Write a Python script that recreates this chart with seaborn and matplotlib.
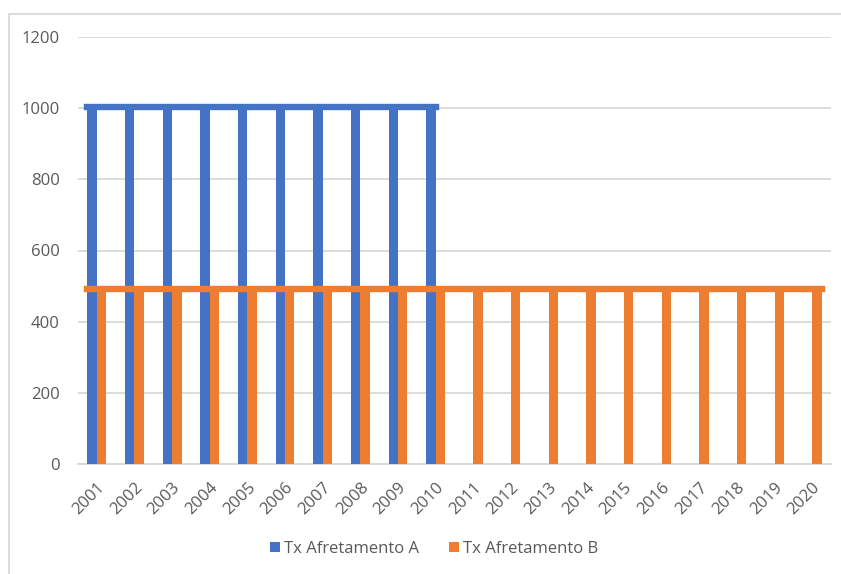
import numpy as np
import pandas as pd
import matplotlib
matplotlib.use("Agg")
import matplotlib.pyplot as plt
from matplotlib.patches import Rectangle
import seaborn as sns

# ---- data ----
years = [str(y) for y in range(2001, 2021)]
tx_a = [1000, 1000, 1000, 1000, 1000, 1000, 1000, 1000, 1000, 1000,
        0, 0, 0, 0, 0, 0, 0, 0, 0, 0]
tx_b = [500] * 20
series_names = ["Tx Afretamento A", "Tx Afretamento B"]
line_levels = [1004, 493]          # levels of the two horizontal caps
y_ticks = [0, 200, 400, 600, 800, 1000, 1200]

colors = ["#4472C4", "#ED7D31"]
grid_c = "#D9D9D9"
text_c = "#595959"

df = pd.DataFrame({
    "year": years * 2,
    "value": tx_a + tx_b,
    "serie": [series_names[0]] * len(years) + [series_names[1]] * len(years),
})

sns.set_theme(style="white")
plt.rcParams["font.family"] = ["Open Sans", "DejaVu Sans"]

fig = plt.figure(figsize=(8.41, 5.74), dpi=100)
ax = fig.add_axes([78 / 841, 1 - 464 / 574, (831 - 78) / 841, (464 - 37) / 574])

sns.barplot(data=df, x="year", y="value", hue="serie", palette=colors,
            saturation=1, width=0.5, linewidth=0, ax=ax, legend=True, zorder=3)

# horizontal caps across the bars, positioned from the bars themselves
cont_a, cont_b = ax.containers[0], ax.containers[1]
n_a = sum(1 for v in tx_a if v > 0)
xa0 = cont_a[0].get_x()
xa1 = cont_a[n_a - 1].get_x() + cont_a[n_a - 1].get_width()
xb1 = cont_b[len(years) - 1].get_x() + cont_b[len(years) - 1].get_width()
ax.plot([xa0, xa1], [line_levels[0]] * 2, color=colors[0], lw=4.6,
        solid_capstyle="projecting", zorder=4)
ax.plot([xa0, xb1], [line_levels[1]] * 2, color=colors[1], lw=4.6,
        solid_capstyle="projecting", zorder=5)

ax.set_ylim(0, 1200)
ax.set_xlim(-0.5, len(years) - 0.5)
ax.set_yticks(y_ticks)
ax.yaxis.grid(True, color=grid_c, lw=1.3, zorder=0)
ax.set_axisbelow(True)
for s in ["top", "right", "left"]:
    ax.spines[s].set_visible(False)
ax.spines["bottom"].set_color(grid_c)
ax.spines["bottom"].set_linewidth(1.3)
ax.set_xlabel("")
ax.set_ylabel("")
ax.tick_params(axis="y", length=0, pad=13, labelsize=12, labelcolor=text_c)
ax.tick_params(axis="x", length=0, pad=11, labelsize=12, labelcolor=text_c)
plt.setp(ax.get_xticklabels(), rotation=45, ha="right", rotation_mode="anchor")

leg = ax.legend(loc="center", bbox_to_anchor=(434 / 841, 1 - 549 / 574),
                bbox_transform=fig.transFigure, ncol=2, frameon=False,
                fontsize=12, handlelength=0.6, handleheight=0.6,
                handletextpad=0.25, columnspacing=1.8)
for t in leg.get_texts():
    t.set_color(text_c)

# outer chart frame
fig.patches.append(Rectangle((9 / 841, -0.01), 1.02, 1 - 14 / 574 + 0.01,
                             transform=fig.transFigure, fill=False,
                             edgecolor=grid_c, lw=1.3, clip_on=False))

fig.savefig("out.png", dpi=100, facecolor="white")
